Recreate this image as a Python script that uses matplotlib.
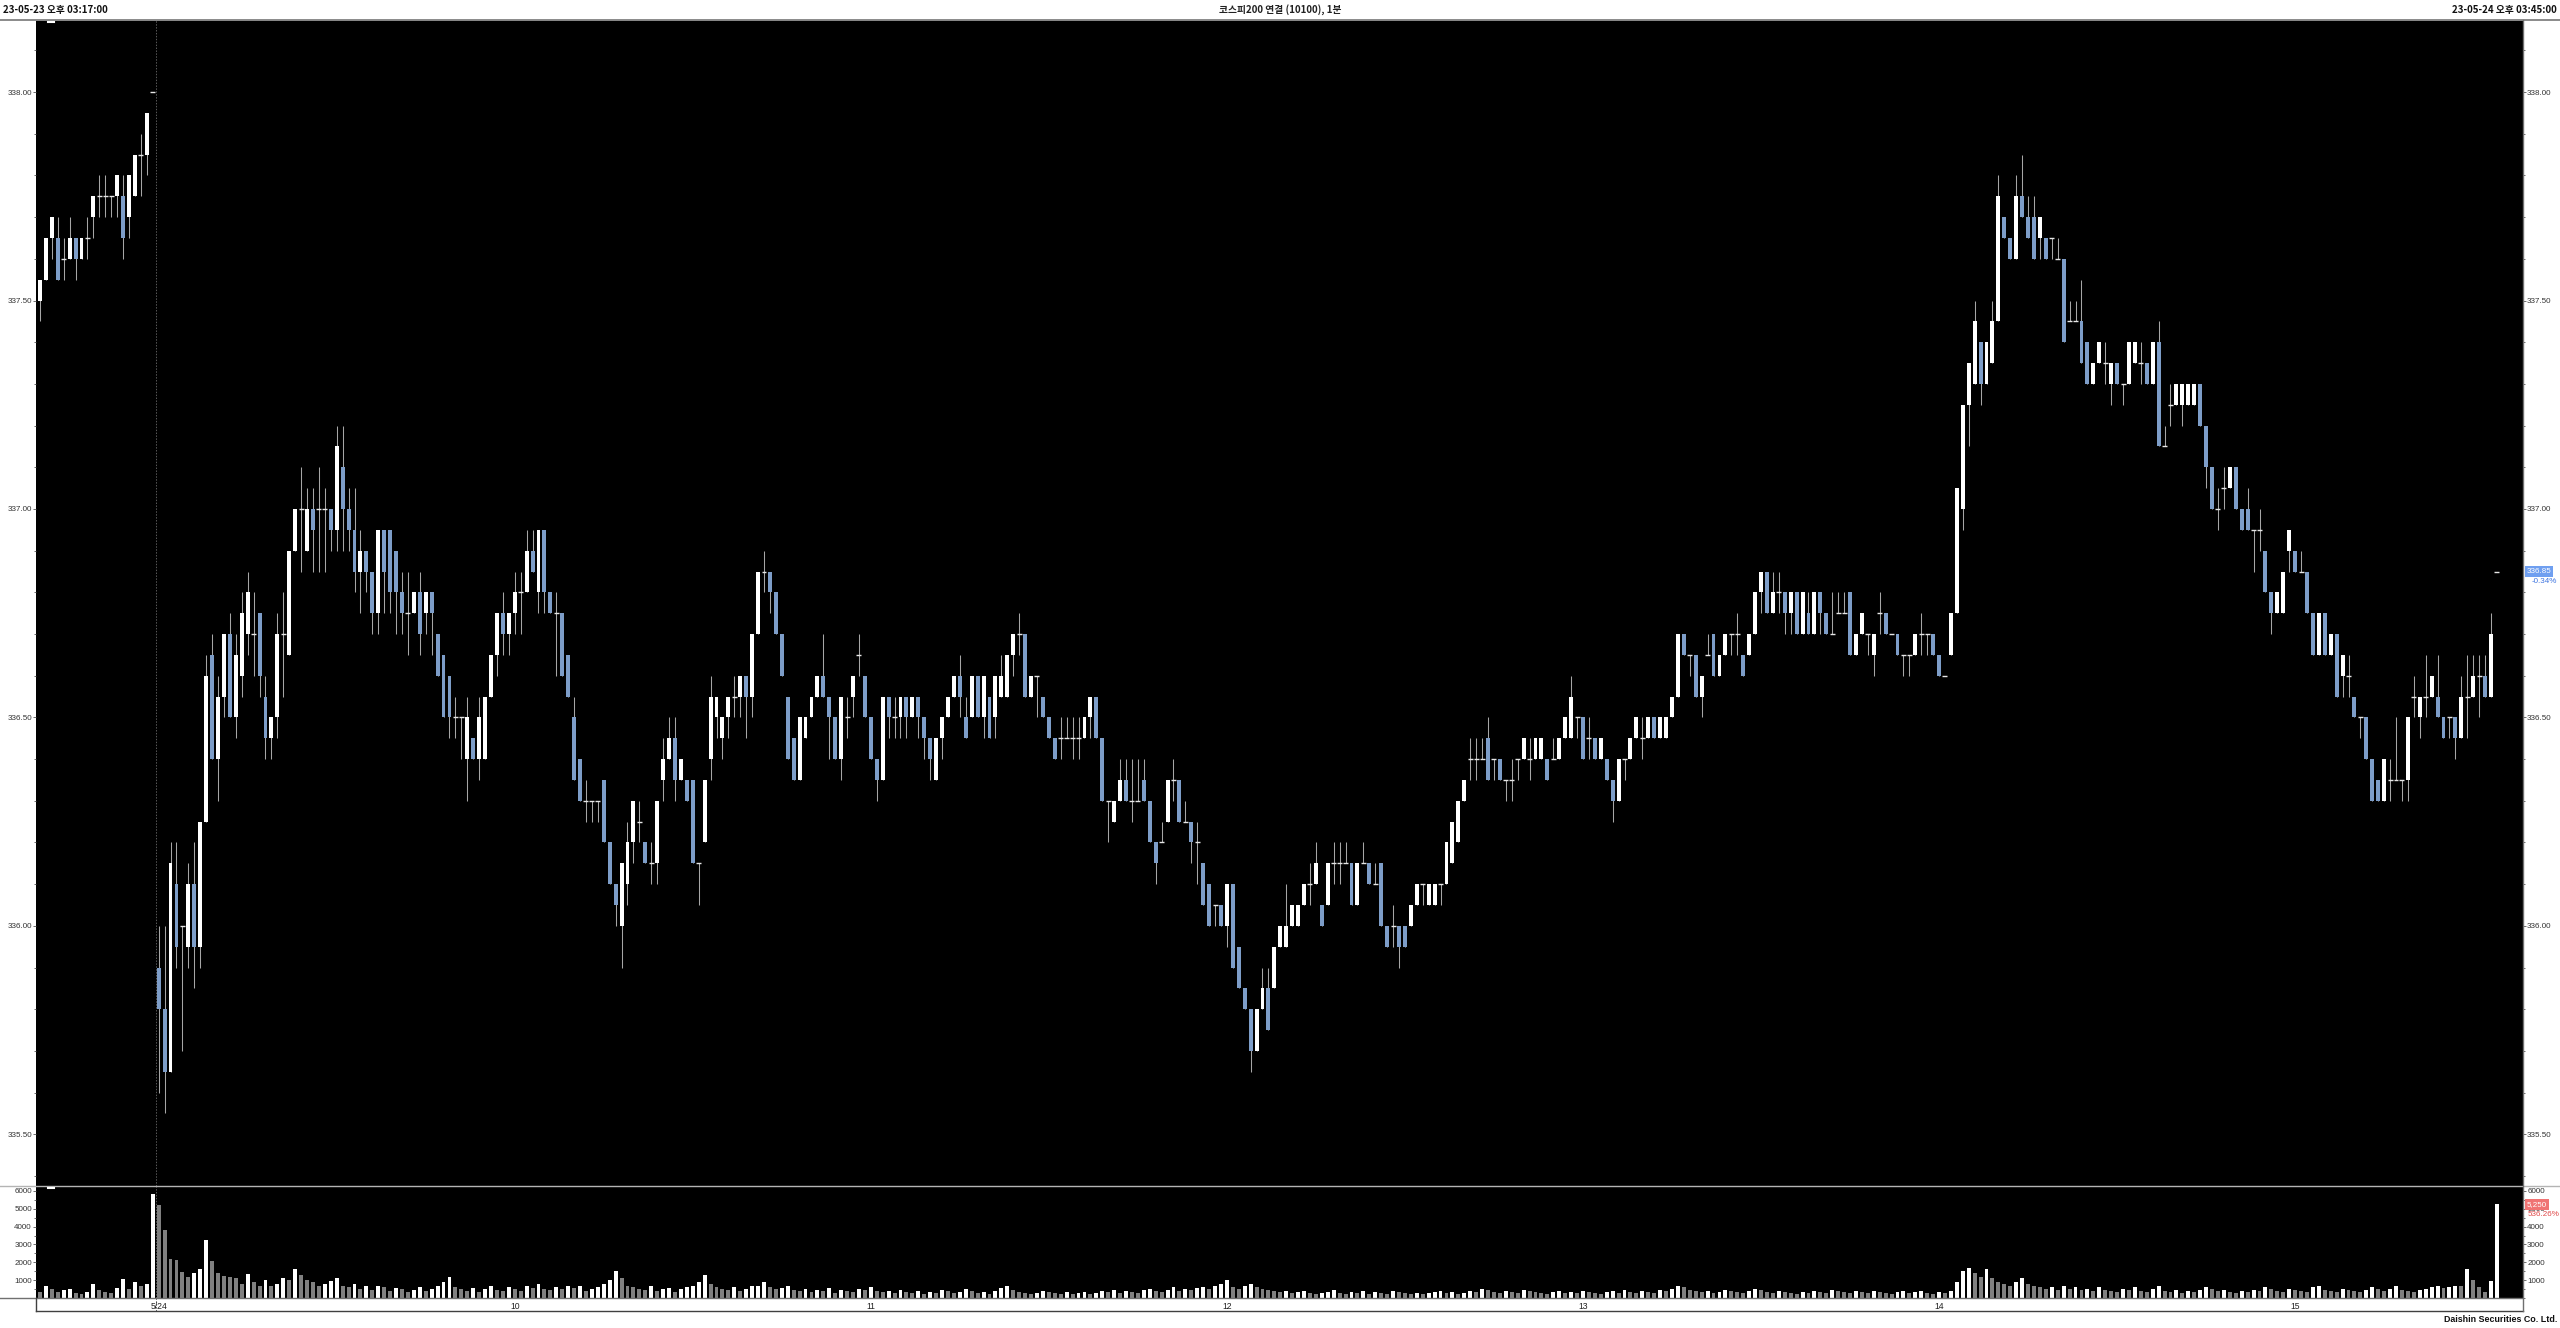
"""plot.py - KOSPI200 continuous futures, 1-minute candles with volume"""

# === IMPORTS ===
import matplotlib

matplotlib.use("Agg")
import matplotlib.pyplot as plt
from matplotlib.lines import Line2D
from matplotlib.ticker import FixedLocator, MultipleLocator, FormatStrFormatter
from matplotlib.transforms import blended_transform_factory

# === DATA ===
# every bar is (open, high, low, close), counted in 0.05 ticks above 335.00
TICK_BASE = 335.00
TICK_SIZE = 0.05

# 5/23, last minutes of the session (closing auction bar last)
BARS_0523 = [
    (50, 51, 49, 51), (51, 53, 51, 53), (53, 54, 52, 54), (53, 54, 51, 51), (52, 53, 51, 52),
    (52, 54, 52, 53), (53, 53, 51, 52), (52, 53, 52, 53), (53, 54, 52, 53), (54, 55, 53, 55),
    (55, 56, 54, 55), (55, 56, 54, 55), (55, 55, 54, 55), (55, 56, 54, 56), (55, 56, 52, 53),
    (54, 56, 53, 56), (55, 57, 55, 57), (57, 58, 55, 57), (57, 59, 56, 59), (60, 60, 60, 60),
]

# 5/24, 09:00 onward
BARS_0524_AM = [
    (18, 20, 12, 16), (16, 20, 11, 13), (13, 24, 13, 23), (22, 24, 18, 19), (20, 20, 14, 20),
    (19, 23, 18, 22), (22, 24, 17, 19), (19, 25, 18, 25), (25, 33, 25, 32), (33, 34, 28, 28),
    (28, 32, 26, 31), (31, 34, 30, 34), (34, 35, 30, 30), (30, 34, 29, 33), (32, 36, 31, 35),
    (34, 37, 33, 36), (34, 36, 32, 34), (35, 35, 31, 32), (31, 32, 28, 29), (29, 30, 28, 30),
    (30, 35, 29, 34), (34, 36, 31, 34), (33, 38, 33, 38), (38, 40, 38, 40), (40, 42, 37, 40),
    (38, 41, 38, 40), (40, 41, 37, 39), (40, 42, 37, 40), (40, 41, 37, 40), (40, 40, 38, 39),
    (39, 44, 38, 43), (42, 44, 38, 40), (40, 41, 38, 39), (39, 41, 36, 37), (37, 39, 35, 38),
    (38, 38, 36, 37), (37, 37, 34, 35), (35, 39, 34, 39), (39, 39, 35, 37), (39, 39, 35, 36),
    (38, 38, 34, 36), (36, 37, 34, 35), (35, 37, 33, 35), (35, 36, 35, 36), (36, 37, 33, 34),
    (35, 36, 34, 36), (36, 36, 33, 35), (34, 34, 32, 32), (33, 33, 30, 30), (32, 32, 29, 30),
    (30, 31, 29, 30), (30, 30, 28, 30), (28, 31, 26, 30), (29, 29, 28, 28), (28, 31, 27, 30),
    (28, 31, 28, 31), (31, 33, 31, 33), (33, 35, 32, 35), (35, 36, 33, 34), (34, 35, 33, 35),
    (35, 37, 34, 36), (36, 37, 34, 36), (36, 39, 36, 38), (38, 39, 37, 37), (36, 39, 35, 39),
    (39, 39, 35, 36), (36, 36, 35, 35), (35, 36, 32, 35), (35, 35, 32, 32), (33, 33, 31, 31),
    (30, 31, 27, 27), (28, 28, 26, 26), (26, 27, 25, 26), (26, 26, 25, 26), (26, 26, 25, 26),
    (27, 27, 24, 24), (24, 24, 22, 22), (22, 22, 20, 21), (20, 23, 18, 23), (22, 25, 21, 24),
    (24, 26, 23, 26), (25, 26, 24, 25), (24, 24, 23, 23), (23, 24, 22, 23), (23, 26, 22, 26),
    (27, 29, 26, 28), (28, 30, 28, 29), (29, 30, 26, 27), (27, 28, 27, 28), (27, 27, 26, 26),
    (27, 27, 23, 23), (23, 23, 21, 23), (24, 27, 24, 27), (28, 32, 27, 31), (30, 31, 29, 31),
    (29, 30, 28, 30), (30, 31, 29, 31), (31, 32, 30, 31), (31, 32, 30, 32), (32, 32, 29, 31),
    (31, 34, 30, 34), (34, 37, 34, 37), (37, 38, 36, 37), (37, 37, 35, 36), (36, 36, 34, 34),
    (34, 34, 32, 32), (31, 31, 28, 28), (29, 29, 27, 27), (27, 30, 27, 30), (29, 30, 29, 30),
    (30, 31, 30, 31), (31, 32, 31, 32), (32, 34, 31, 31), (31, 31, 28, 30), (30, 30, 28, 28),
    (28, 31, 27, 31), (30, 31, 29, 30), (31, 32, 30, 32), (33, 34, 32, 33), (32, 32, 30, 30),
    (30, 30, 28, 28), (28, 28, 26, 27), (27, 31, 27, 31), (31, 31, 29, 30), (30, 31, 29, 30),
    (30, 31, 29, 31), (31, 31, 29, 30), (30, 31, 30, 31), (31, 31, 29, 30), (30, 30, 28, 29),
    (29, 29, 27, 28), (27, 29, 27, 29), (29, 30, 28, 30), (30, 31, 30, 31), (31, 32, 31, 32),
    (32, 33, 30, 31), (30, 31, 29, 29), (30, 32, 30, 32), (32, 32, 30, 30), (30, 32, 29, 32),
    (31, 31, 29, 29),
]

BARS_0524_MID = [
    (30, 32, 29, 32), (31, 33, 31, 32), (31, 33, 31, 33), (33, 34, 32, 34), (34, 35, 33, 34),
    (34, 34, 31, 31), (31, 32, 31, 32), (32, 32, 30, 32), (31, 31, 30, 30), (30, 30, 29, 29),
    (29, 29, 28, 28), (29, 30, 28, 29), (29, 30, 29, 29), (29, 30, 28, 29), (29, 30, 28, 29),
    (29, 30, 29, 30), (30, 31, 29, 31), (31, 31, 29, 29), (29, 29, 26, 26), (26, 26, 24, 26),
    (25, 26, 25, 26), (26, 28, 26, 27), (27, 28, 26, 26), (26, 28, 25, 26), (26, 28, 26, 26),
    (27, 28, 26, 26), (26, 26, 24, 24), (24, 24, 22, 23), (24, 25, 24, 24), (25, 27, 25, 27),
    (27, 28, 26, 27), (27, 27, 25, 25), (25, 26, 25, 25), (25, 25, 23, 24), (24, 25, 22, 24),
    (23, 23, 21, 21), (22, 22, 20, 20), (21, 21, 20, 21), (21, 21, 20, 20), (20, 22, 19, 22),
    (22, 22, 18, 18), (19, 19, 17, 17), (17, 17, 16, 16), (16, 16, 13, 14), (14, 16, 14, 16),
    (16, 18, 16, 17), (17, 18, 15, 15), (17, 19, 17, 19), (19, 20, 19, 20), (19, 22, 19, 20),
    (20, 21, 20, 21), (20, 21, 20, 21), (21, 22, 21, 22), (22, 23, 21, 22), (22, 24, 22, 23),
    (21, 21, 20, 20), (21, 23, 21, 23), (23, 24, 22, 23), (23, 24, 22, 23), (23, 24, 23, 23),
    (23, 23, 21, 21), (21, 23, 21, 23), (23, 24, 23, 23), (23, 23, 22, 22), (22, 23, 22, 22),
    (23, 23, 20, 20), (20, 20, 19, 19), (20, 21, 19, 20), (20, 20, 18, 19), (20, 20, 19, 19),
    (20, 21, 20, 21), (21, 22, 21, 22), (22, 22, 21, 22), (21, 22, 21, 22), (21, 22, 21, 22),
    (22, 22, 21, 22), (22, 24, 22, 24), (23, 25, 23, 25), (24, 26, 24, 26), (26, 27, 26, 27),
    (28, 29, 27, 28), (28, 29, 27, 28), (28, 29, 28, 28), (29, 30, 27, 27), (28, 28, 27, 28),
    (28, 28, 27, 27), (27, 27, 26, 27), (27, 28, 26, 27), (28, 28, 27, 28), (28, 29, 28, 29),
    (28, 29, 27, 28), (28, 29, 28, 29), (28, 29, 28, 29), (28, 28, 27, 27), (28, 29, 28, 28),
    (28, 29, 28, 29), (29, 30, 29, 30), (29, 32, 29, 31), (30, 30, 29, 30), (30, 30, 28, 28),
    (29, 30, 28, 29), (29, 29, 28, 28), (28, 29, 28, 29), (28, 28, 27, 27), (27, 27, 25, 26),
    (26, 28, 26, 28), (28, 28, 27, 28), (28, 29, 28, 29), (29, 30, 29, 30), (29, 30, 28, 29),
    (29, 30, 29, 30), (30, 30, 29, 29), (29, 30, 29, 30), (29, 30, 29, 30), (30, 31, 30, 31),
    (31, 34, 31, 34), (34, 34, 33, 33), (33, 33, 32, 33), (33, 33, 31, 31), (31, 32, 30, 32),
    (33, 34, 33, 33), (34, 34, 32, 32), (32, 33, 32, 33), (33, 34, 33, 34), (34, 34, 33, 34),
    (34, 35, 33, 34), (33, 33, 32, 32), (33, 34, 33, 34), (34, 36, 34, 36), (36, 37, 35, 37),
    (37, 37, 35, 35), (35, 37, 35, 36), (36, 37, 35, 36), (36, 36, 34, 35), (35, 36, 34, 36),
    (36, 36, 34, 34), (34, 36, 34, 36), (35, 36, 34, 34), (34, 36, 34, 36), (36, 36, 34, 35),
]

BARS_0524_PM = [
    (35, 35, 34, 34), (34, 36, 34, 34), (35, 36, 35, 35), (35, 36, 35, 35), (36, 36, 33, 33),
    (33, 34, 33, 34), (34, 35, 34, 35), (34, 34, 33, 34), (33, 34, 32, 34), (35, 36, 34, 35),
    (35, 35, 34, 34), (34, 34, 34, 34), (34, 34, 33, 33), (33, 33, 32, 33), (33, 33, 32, 33),
    (33, 34, 33, 34), (34, 35, 33, 34), (34, 34, 33, 34), (34, 34, 33, 33), (33, 33, 32, 32),
    (32, 32, 32, 32), (33, 35, 33, 35), (35, 41, 35, 41), (40, 45, 39, 45), (45, 47, 43, 47),
    (46, 50, 46, 49), (48, 48, 45, 46), (46, 48, 46, 48), (47, 50, 47, 49), (49, 56, 49, 55),
    (54, 54, 53, 53), (53, 53, 52, 52), (52, 56, 52, 55), (55, 57, 54, 54), (54, 55, 53, 53),
    (54, 55, 52, 52), (53, 54, 52, 54), (53, 53, 52, 52), (53, 53, 52, 53), (52, 53, 52, 52),
    (52, 52, 48, 48), (49, 50, 49, 49), (49, 50, 49, 49), (49, 51, 47, 47), (48, 48, 46, 46),
    (46, 47, 46, 47), (47, 48, 47, 48), (47, 48, 46, 47), (46, 47, 45, 47), (47, 47, 46, 46),
    (46, 46, 45, 46), (46, 48, 46, 48), (47, 48, 47, 48), (47, 48, 46, 47), (47, 47, 46, 46),
    (46, 48, 46, 48), (48, 49, 43, 43), (43, 44, 43, 43), (45, 46, 44, 45), (45, 46, 45, 46),
    (45, 46, 44, 46), (45, 46, 45, 46), (45, 46, 45, 46), (46, 46, 44, 44), (44, 44, 41, 42),
    (42, 42, 40, 40), (40, 41, 39, 40), (41, 42, 40, 41), (41, 42, 41, 42), (42, 42, 40, 40),
    (40, 40, 39, 39), (40, 41, 39, 39), (39, 39, 37, 39), (39, 40, 38, 39), (38, 38, 36, 36),
    (36, 36, 34, 35), (35, 36, 35, 36), (35, 37, 35, 37), (38, 39, 37, 39), (38, 38, 37, 37),
    (37, 38, 37, 37), (37, 37, 35, 35), (35, 35, 33, 33), (33, 35, 33, 35), (35, 35, 33, 33),
    (33, 34, 33, 34), (34, 34, 31, 31), (32, 33, 31, 33), (32, 33, 31, 32), (31, 31, 30, 30),
    (30, 30, 29, 30), (30, 30, 28, 28), (28, 28, 26, 26), (27, 27, 26, 26), (26, 28, 26, 28),
    (27, 28, 26, 27), (27, 30, 27, 27), (27, 27, 26, 27), (27, 30, 26, 30), (31, 32, 30, 31),
    (30, 31, 29, 31), (31, 33, 30, 31), (31, 32, 31, 32), (31, 33, 30, 30), (30, 30, 29, 29),
    (30, 30, 29, 30), (30, 30, 28, 29), (29, 32, 29, 31), (31, 33, 29, 31), (31, 33, 31, 32),
    (32, 33, 30, 32), (32, 33, 31, 31), (31, 35, 31, 34), (37, 37, 37, 37),
]

VOLUME_0523 = [350, 700, 500, 350, 450, 480, 300, 230, 330, 800,
               450, 330, 300, 550, 1050, 500, 920, 700, 780, 5850]

VOLUME_0524_AM = [
    5200, 3800, 2200, 2150, 1450, 1200, 1400, 1600, 3250, 2050,
    1400, 1250, 1200, 1100, 800, 1350, 900, 700, 1000, 650,
    800, 1100, 1000, 1650, 1300, 1000, 900, 700, 800, 950,
    1100, 700, 600, 800, 500, 650, 450, 700, 600, 400,
    550, 500, 350, 450, 600, 400, 500, 700, 900, 1200,
    600, 500, 400, 550, 350, 500, 650, 450, 400, 600,
    500, 400, 700, 550, 800, 500, 450, 600, 500, 700,
    550, 650, 400, 500, 600, 800, 1000, 1500, 1100, 700,
    600, 500, 450, 650, 400, 500, 550, 350, 500, 600,
    700, 900, 1300, 800, 600, 500, 450, 600, 400, 500,
    650, 700, 900, 600, 500, 550, 700, 450, 400, 500,
    350, 450, 400, 550, 300, 450, 400, 350, 500, 450,
    600, 400, 350, 400, 300, 450, 350, 300, 400, 250,
    350, 300, 450, 400, 300, 350, 500, 400, 300, 350,
    250,
]

VOLUME_0524_MID = [
    400, 550, 700, 450, 350, 300, 250, 300, 400, 350,
    300, 250, 350, 200, 300, 350, 250, 300, 400, 350,
    450, 300, 400, 350, 300, 450, 500, 400, 350, 450,
    600, 400, 500, 450, 550, 600, 500, 700, 800, 1000,
    600, 500, 700, 800, 600, 500, 450, 400, 350, 400,
    300, 350, 400, 300, 250, 300, 350, 450, 300, 250,
    350, 300, 400, 250, 350, 300, 250, 400, 350, 300,
    250, 300, 200, 300, 350, 400, 300, 350, 250, 300,
    400, 350, 500, 450, 350, 300, 400, 350, 300, 450,
    400, 350, 300, 250, 350, 400, 300, 350, 300, 400,
    350, 300, 250, 350, 400, 300, 450, 350, 300, 400,
    350, 300, 450, 400, 500, 700, 600, 450, 400, 350,
    400, 300, 350, 450, 400, 350, 300, 400, 500, 450,
    350, 300, 400, 350, 300, 250, 350, 300, 400, 350,
]

VOLUME_0524_PM = [
    300, 450, 400, 350, 300, 400, 350, 300, 400, 350,
    300, 250, 350, 400, 300, 350, 400, 300, 250, 350,
    300, 400, 900, 1500, 1700, 1400, 1200, 1600, 1100, 900,
    800, 700, 900, 1100, 800, 700, 600, 500, 600, 450,
    700, 500, 600, 450, 500, 400, 600, 450, 400, 350,
    500, 450, 600, 400, 350, 500, 700, 400, 350, 450,
    300, 400, 350, 450, 600, 500, 400, 450, 350, 300,
    400, 350, 450, 400, 600, 500, 400, 350, 500, 450,
    400, 350, 600, 700, 450, 400, 350, 500, 450, 400,
    350, 450, 600, 500, 400, 500, 700, 450, 400, 350,
    450, 500, 600, 700, 550, 600, 700, 700, 1600, 1000,
    600, 350, 979, 5250,
]

HOUR_LABELS = ["5/24", "10", "11", "12", "13", "14", "15"]
BARS_PER_HOUR = 60

HEADER_LEFT = "23-05-23 오후 03:17:00"
HEADER_CENTER = "코스피200 연결 (10100), 1분"
HEADER_RIGHT = "23-05-24 오후 03:45:00"
FOOTER = "Daishin Securities Co. Ltd."

# === STYLE ===
W, H = 2560, 1328
UP_COLOR = "#ffffff"
DOWN_COLOR = "#7d9dc8"
WICK_COLOR = "#a6a6a6"
VOL_UP = "#ffffff"
VOL_DOWN = "#808080"
LABEL_COLOR = "#333333"
FONT = ["Liberation Sans", "Noto Sans CJK KR", "DejaVu Sans"]

plt.rcParams["font.family"] = FONT


def px_box(x0, y0, x1, y1):
    """Axes rectangle from pixel edges (origin top-left)."""
    return [x0 / W, 1 - y1 / H, (x1 - x0) / W, (y1 - y0) / H]


def fig_line(fig, x0, y0, x1, y1, color, lw=1.0):
    fig.add_artist(Line2D([x0 / W, x1 / W], [1 - y0 / H, 1 - y1 / H],
                          transform=fig.transFigure, color=color, lw=lw))


# === PREPARE SERIES ===
bars = BARS_0523 + BARS_0524_AM + BARS_0524_MID + BARS_0524_PM
volume = VOLUME_0523 + VOLUME_0524_AM + VOLUME_0524_MID + VOLUME_0524_PM

opens = [TICK_BASE + TICK_SIZE * b[0] for b in bars]
highs = [TICK_BASE + TICK_SIZE * b[1] for b in bars]
lows = [TICK_BASE + TICK_SIZE * b[2] for b in bars]
closes = [TICK_BASE + TICK_SIZE * b[3] for b in bars]
xs = list(range(len(bars)))

day_start = len(BARS_0523)
prev_close = closes[day_start - 1]

# === FIGURE ===
fig = plt.figure(figsize=(W / 100, H / 100), dpi=100, facecolor="white")

ax = fig.add_axes(px_box(36, 20, 2523, 1186), facecolor="black")
axv = fig.add_axes(px_box(36, 1186, 2523, 1298), facecolor="black", sharex=ax)
axx = fig.add_axes(px_box(36, 1298, 2523, 1311), facecolor="white", sharex=ax)

# candles
ax.vlines(xs, lows, highs, color=WICK_COLOR, lw=0.75, zorder=2)
body_w = 0.66
for kind, color in (("up", UP_COLOR), ("down", DOWN_COLOR)):
    bx, bh, bb = [], [], []
    for x, o, c in zip(xs, opens, closes):
        if (kind == "up" and c > o) or (kind == "down" and c < o):
            bx.append(x)
            bh.append(abs(c - o))
            bb.append(min(o, c))
    ax.bar(bx, bh, bottom=bb, width=body_w, color=color, lw=0, zorder=3)

doji_x = [x for x, o, c in zip(xs, opens, closes) if abs(o - c) < 1e-9]
doji_y = [closes[x] for x in doji_x]
ax.hlines(doji_y, [x - 0.42 for x in doji_x], [x + 0.42 for x in doji_x],
          color="#e6e6e6", lw=1.0, zorder=3)

# volume bars: white when volume rose from the previous minute
vol_colors = [VOL_DOWN] + [VOL_UP if volume[i] > volume[i - 1] else VOL_DOWN
                           for i in range(1, len(volume))]
axv.bar(xs, volume, width=body_w, color=vol_colors, lw=0)

# === AXES SETUP ===
x_left, x_right = -0.67, 418.4
ax.set_xlim(x_left, x_right)
ax.set_ylim(335.376, 338.173)
axv.set_ylim(0, 6280)
axx.set_ylim(0, 1)

for a in (ax, axv, axx):
    a.tick_params(axis="x", which="both", bottom=False, top=False,
                  labelbottom=False, labeltop=False)
    for s in a.spines.values():
        s.set_visible(False)

ax.yaxis.set_major_locator(MultipleLocator(0.5))
ax.yaxis.set_minor_locator(MultipleLocator(0.1))
ax.yaxis.set_major_formatter(FormatStrFormatter("%.2f"))

axv.yaxis.set_major_locator(FixedLocator([1000, 2000, 3000, 4000, 5000, 6000]))
axv.yaxis.set_minor_locator(MultipleLocator(500))

for a in (ax, axv):
    a.tick_params(axis="y", which="major", left=True, right=True,
                  labelleft=True, labelright=True, length=2.2, width=0.6,
                  color="#555555", pad=0.8, labelsize=5.8, labelcolor=LABEL_COLOR)
    a.tick_params(axis="y", which="minor", left=True, right=True,
                  length=1.4, width=0.6, color="#555555")

axx.set_yticks([])

# session divider
for a in (ax, axv, axx):
    a.axvline(day_start - 0.5, color="#5a5a5a", lw=0.7, ls=(0, (1.5, 1.5)), zorder=1)

# hour labels under the volume panel
for k, label in enumerate(HOUR_LABELS):
    axx.text(day_start + k * BARS_PER_HOUR, 0.35, label, ha="center", va="center",
             fontsize=6.2, color="#222222")

# === LAST VALUE TAGS ===
last_close = closes[-1]
pct = (last_close / prev_close - 1) * 100
tag_tr = blended_transform_factory(ax.transAxes, ax.transData)
ax.text(1.0015, last_close, f"{last_close:.2f}", transform=tag_tr, ha="left",
        va="center", fontsize=5.8, color="white", zorder=6, clip_on=False,
        bbox=dict(boxstyle="square,pad=0.25", fc="#6f9ff0", ec="none"))
ax.annotate(f"{pct:.2f}%", xy=(1.0, last_close), xycoords=tag_tr,
            xytext=(6, -7), textcoords="offset points", ha="left", va="center",
            fontsize=5.8, color="#3d74e0", annotation_clip=False)

last_vol = volume[-1]
vol_pct = last_vol / volume[-2] * 100
vtag_tr = blended_transform_factory(axv.transAxes, axv.transData)
axv.text(1.0015, last_vol, f"{last_vol:,}", transform=vtag_tr, ha="left",
         va="center", fontsize=5.8, color="white", zorder=6, clip_on=False,
         bbox=dict(boxstyle="square,pad=0.25", fc="#f07474", ec="none"))
axv.annotate(f"{vol_pct:.2f}%", xy=(1.0, last_vol), xycoords=vtag_tr,
             xytext=(3, -7), textcoords="offset points", ha="left", va="center",
             fontsize=5.8, color="#e04848", annotation_clip=False)

# === FRAME LINES ===
fig_line(fig, 0, 20, W, 20, "#8a8a8a", 1.4)
fig_line(fig, 0, 1186, W, 1186, "#b4b4b4", 1.0)
fig_line(fig, 0, 1298, 2523, 1298, "#707070", 1.0)
fig_line(fig, 36, 1311, 2523, 1311, "#404040", 1.0)
fig_line(fig, 36, 1298, 36, 1311, "#404040", 1.0)
fig_line(fig, 2523, 20, 2523, 1311, "#707070", 1.0)
# small scroll markers at the top-left of each panel
fig_line(fig, 48, 21.5, 54, 21.5, "white", 1.5)
fig_line(fig, 48, 1187.5, 54, 1187.5, "white", 1.5)

# === HEADER / FOOTER TEXT ===
head_y = 1 - 10 / H
head_font = ["Noto Sans CJK KR", "DejaVu Sans"]
fig.text(3 / W, head_y, HEADER_LEFT, ha="left", va="center", fontsize=7.0,
         fontweight="bold", family=head_font, color="#111111")
fig.text(0.5, head_y, HEADER_CENTER, ha="center", va="center", fontsize=7.0,
         fontweight="bold", family=head_font, color="#222222")
fig.text(2557 / W, head_y, HEADER_RIGHT, ha="right", va="center", fontsize=7.0,
         fontweight="bold", family=head_font, color="#111111")
fig.text(2557 / W, 1 - 1320 / H, FOOTER, ha="right", va="center", fontsize=6.4,
         fontweight="bold", color="#111111")

fig.savefig("out.png", dpi=100, facecolor="white")
